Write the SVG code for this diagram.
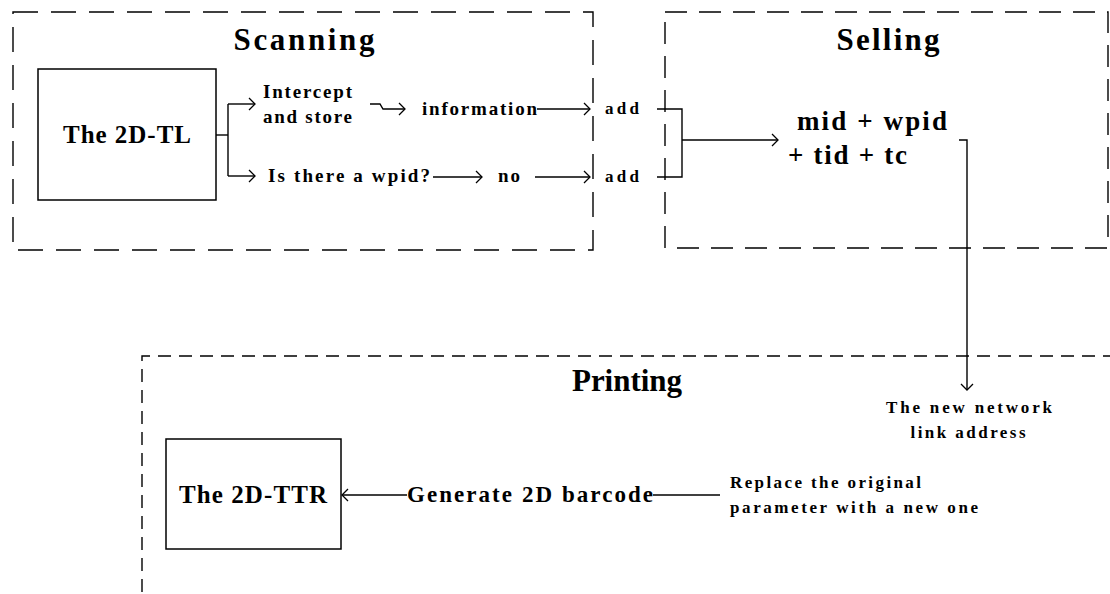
<svg xmlns="http://www.w3.org/2000/svg" width="1110" height="594" viewBox="0 0 1110 594">
<style>
  .frame{fill:none;stroke:#000;stroke-width:1.4}
  .box{fill:#fff;stroke:#000;stroke-width:1.5}
  .conn{fill:none;stroke:#000;stroke-width:1.4}
  .t{font-family:'Liberation Serif','Times New Roman',serif;font-weight:bold;fill:#000}
  .title{font-size:31px;text-anchor:middle}
  .node{font-size:25px;text-anchor:middle}
  .lbl{font-size:19px}
  .big{font-size:27px}
  .small{font-size:17px}
</style>
<defs>
  <marker id="arr" markerUnits="userSpaceOnUse" markerWidth="10" markerHeight="16" viewBox="-9 -8 10 16" refX="0" refY="0" orient="auto">
    <path d="M-6,-6 L0,0 L-6,6" fill="none" stroke="#000" stroke-width="1.3"/>
  </marker>
</defs>
<rect width="1110" height="594" fill="#fff"/>

<g id="scanning">
  <rect class="frame" x="13" y="12" width="580" height="238" stroke-dasharray="25 13"/>
  <text class="t title" x="304" y="50" textLength="141" lengthAdjust="spacing">Scanning</text>
</g>
<g id="selling">
  <rect class="frame" x="665" y="12" width="443" height="236" stroke-dasharray="22 12"/>
  <text class="t title" x="888" y="50" textLength="103" lengthAdjust="spacing">Selling</text>
</g>
<g id="printing">
  <path class="frame" d="M142,592 V356 H1110" stroke-dasharray="13 8"/>
  <text class="t title" x="627" y="391" textLength="110" lengthAdjust="spacing">Printing</text>
</g>

<g id="tl">
  <rect class="box" x="38" y="69" width="178" height="131"/>
  <text class="t node" x="127" y="143" textLength="128" lengthAdjust="spacing">The 2D-TL</text>
</g>
<g id="ttr">
  <rect class="box" x="166" y="439" width="175" height="110"/>
  <text class="t node" x="253" y="503" textLength="148" lengthAdjust="spacing">The 2D-TTR</text>
</g>

<g id="intercept">
  <text class="t lbl" x="263" y="98" textLength="89" lengthAdjust="spacing">Intercept</text>
  <text class="t lbl" x="263" y="123" textLength="89" lengthAdjust="spacing">and store</text>
</g>
<g id="information">
  <text class="t lbl" x="422" y="115" textLength="115" lengthAdjust="spacing">information</text>
</g>
<g id="wpid">
  <text class="t lbl" x="268" y="182" textLength="162" lengthAdjust="spacing">Is there a wpid?</text>
</g>
<g id="no">
  <text class="t lbl" x="498" y="182" textLength="22" lengthAdjust="spacing">no</text>
</g>
<g id="add1">
  <text class="t small" x="605" y="114" textLength="34" lengthAdjust="spacing">add</text>
</g>
<g id="add2">
  <text class="t small" x="605" y="182" textLength="34" lengthAdjust="spacing">add</text>
</g>
<g id="params">
  <text class="t big" x="797" y="130" textLength="150" lengthAdjust="spacing">mid + wpid</text>
  <text class="t big" x="788" y="164" textLength="119" lengthAdjust="spacing">+ tid + tc</text>
</g>
<g id="newlink">
  <text class="t small" x="969" y="413" text-anchor="middle" textLength="166" lengthAdjust="spacing">The new network</text>
  <text class="t small" x="968" y="438" text-anchor="middle" textLength="115" lengthAdjust="spacing">link address</text>
</g>
<g id="replace">
  <text class="t small" x="730" y="488" textLength="191" lengthAdjust="spacing">Replace the original</text>
  <text class="t small" x="730" y="513" textLength="248" lengthAdjust="spacing">parameter with a new one</text>
</g>
<g id="generate">
  <text class="t" font-size="23" x="407" y="502" textLength="246" lengthAdjust="spacing">Generate 2D barcode</text>
</g>

<g id="connectors">
  <path class="conn" d="M216,135 H228"/>
  <path class="conn" d="M228,104 V176"/>
  <path class="conn" d="M228,104 H255" marker-end="url(#arr)"/>
  <path class="conn" d="M228,176 H255" marker-end="url(#arr)"/>
  <path class="conn" d="M370,104 H380 L383,109 H405" marker-end="url(#arr)"/>
  <path class="conn" d="M537,109 H590" marker-end="url(#arr)"/>
  <path class="conn" d="M433,177 H482" marker-end="url(#arr)"/>
  <path class="conn" d="M535,177 H590" marker-end="url(#arr)"/>
  <path class="conn" d="M657,109 H682 V177 H657"/>
  <path class="conn" d="M682,140 H778" marker-end="url(#arr)"/>
  <path class="conn" d="M959,140 H967 V390" marker-end="url(#arr)"/>
  <path class="conn" d="M720,495 H653"/>
  <path class="conn" d="M407,495 H342" marker-end="url(#arr)"/>
</g>
</svg>
